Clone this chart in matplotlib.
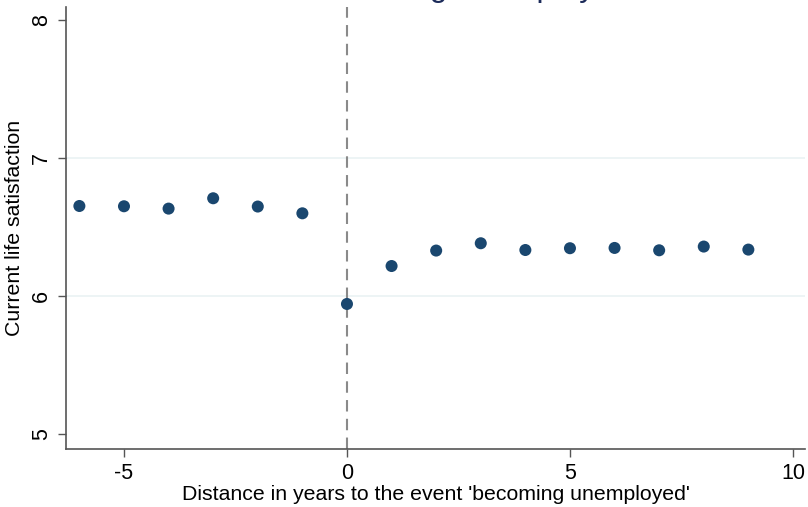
import matplotlib
matplotlib.use("Agg")
import matplotlib.pyplot as plt

# Mean life satisfaction by years relative to becoming unemployed
years = [-6, -5, -4, -3, -2, -1, 0, 1, 2, 3, 4, 5, 6, 7, 8, 9]
satisfaction = [6.652, 6.650, 6.633, 6.708, 6.648, 6.599, 5.942, 6.217,
                6.329, 6.382, 6.333, 6.346, 6.348, 6.331, 6.358, 6.336]
x_ticks = [-5, 0, 5, 10]
y_ticks = [5, 6, 7, 8]
title = "Event: becoming unemployed"
x_label = "Distance in years to the event 'becoming unemployed'"
y_label = "Current life satisfaction"

plt.rcParams["font.family"] = ["Liberation Sans", "DejaVu Sans"]

navy = "#1a476f"
axis_gray = "#555555"

fig = plt.figure(figsize=(8.08, 5.07), dpi=100)
ax = fig.add_axes([66 / 808, 1 - 449 / 507, 739 / 808, 442 / 507])

ax.set_xlim(-6.30, 10.27)
ax.set_ylim(4.891, 8.094)

for v in [6, 7]:
    ax.axhline(v, color="#eaf2f3", lw=1.2, zorder=0)

ax.axvline(0, color="#8a8a8a", lw=1.5, dashes=(5.5, 3.5), zorder=1)

ax.scatter(years, satisfaction, s=75, color=navy, edgecolors="none", zorder=3)

ax.set_xticks(x_ticks)
ax.set_yticks(y_ticks)
ax.set_xticklabels([str(t) for t in x_ticks], fontsize=15.5)
ax.set_yticklabels([str(t) for t in y_ticks], fontsize=15.5, rotation=90, va="center")
ax.tick_params(axis="both", direction="out", length=6, width=1, color=axis_gray, pad=4)

for side in ["top", "right"]:
    ax.spines[side].set_visible(False)
for side in ["left", "bottom"]:
    ax.spines[side].set_color(axis_gray)
    ax.spines[side].set_linewidth(1.2)

ax.set_xlabel(x_label, fontsize=15.3, labelpad=1)
ax.set_ylabel(y_label, fontsize=15.3, labelpad=5)

fig.text(0.52, 1 + 4.2 / 507, title, ha="center", va="baseline",
         fontsize=23, color="#1c2b5a")

fig.savefig("out.png", dpi=100, facecolor="white")
